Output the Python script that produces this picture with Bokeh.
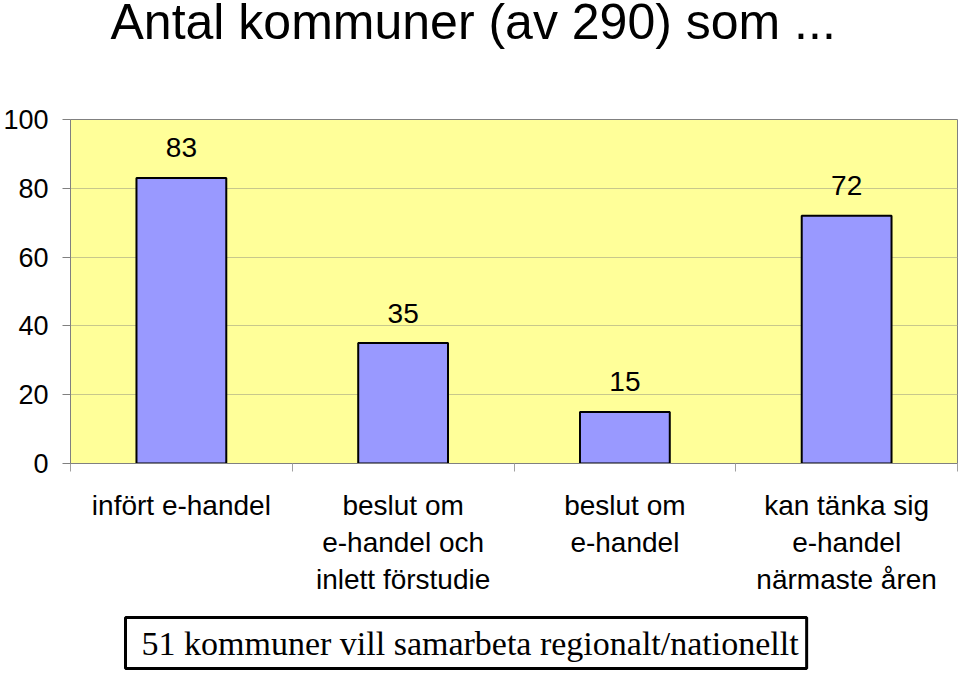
from bokeh.plotting import figure
from bokeh.models import Label, FixedTicker, Range1d
from bokeh.layouts import column
from bokeh.embed import file_html
from bokeh.resources import INLINE
from bokeh.core.properties import value

categories = ["infört e-handel", "beslut om\ne-handel och\ninlett förstudie",
              "beslut om\ne-handel", "kan tänka sig\ne-handel\nnärmaste åren"]
counts = [83, 35, 15, 72]
y_ticks = [0, 20, 40, 60, 80, 100]
title_text = "Antal kommuner (av 290) som ..."
note_text = "51 kommuner vill samarbeta regionalt/nationellt"

centers = [i + 0.5 for i in range(len(categories))]
bounds = list(range(len(categories) + 1))


def strip(height):
    s = figure(width=959, height=height, output_backend="svg", toolbar_location=None,
               x_range=Range1d(0, 1), y_range=Range1d(0, 1),
               min_border_left=70, min_border_right=2, min_border_top=0, min_border_bottom=0)
    s.axis.visible = False
    s.grid.grid_line_color = None
    s.outline_line_color = None
    s.background_fill_color = "white"
    s.border_fill_color = "white"
    return s


# title strip
p0 = strip(60)
p0.add_layout(Label(x=40, y=11, x_units="screen", y_units="screen",
                    text=title_text, text_font="Liberation Sans", text_font_size="50px",
                    text_baseline="bottom", text_color="black"))

p = figure(width=959, height=555, output_backend="svg", toolbar_location=None,
           x_range=Range1d(0, len(categories)), y_range=Range1d(0, 100),
           min_border_left=70, min_border_right=2, min_border_top=59, min_border_bottom=152)

p.background_fill_color = "#FFFF99"
p.border_fill_color = "white"
p.outline_line_color = "#808080"
p.outline_line_width = 1

p.vbar(x=centers, top=counts, width=0.405, bottom=0,
       fill_color="#9999FF", line_color="black", line_width=2)

p.text(x=centers, y=counts, text=[str(c) for c in counts],
       text_font=value("Liberation Sans"), text_font_size="28px",
       text_align="center", text_baseline="alphabetic", y_offset=-30, text_color="black")

# y axis
p.yaxis.ticker = FixedTicker(ticks=y_ticks)
p.yaxis.major_label_text_font = "Liberation Sans"
p.yaxis.major_label_text_font_size = "27px"
p.yaxis.major_label_text_color = "black"
p.yaxis.major_tick_out = 8
p.yaxis.major_tick_in = 0
p.yaxis.minor_tick_out = 0
p.yaxis.minor_tick_in = 0
p.yaxis.major_label_standoff = 14
p.yaxis.axis_line_color = "#808080"
p.yaxis.major_tick_line_color = "#808080"

# x axis
p.xaxis.ticker = FixedTicker(ticks=centers, minor_ticks=bounds)
p.xaxis.major_label_overrides = {c: lab for c, lab in zip(centers, categories)}
p.xaxis.major_label_text_font = "Liberation Sans"
p.xaxis.major_label_text_font_size = "28px"
p.xaxis.major_label_text_color = "black"
p.xaxis.major_label_text_line_height = 1.2
p.xaxis.major_tick_out = 0
p.xaxis.major_tick_in = 0
p.xaxis.minor_tick_out = 8
p.xaxis.minor_tick_in = 0
p.xaxis.minor_tick_line_color = "#a0a0a0"
p.xaxis.axis_line_color = "#808080"
p.xaxis.major_label_standoff = 18

p.xgrid.grid_line_color = None
p.ygrid.ticker = FixedTicker(ticks=y_ticks)
p.ygrid.grid_line_color = "#c8c88c"
p.ygrid.grid_line_width = 1

# note strip
p2 = strip(59)
p2.add_layout(Label(x=55, y=6, x_units="screen", y_units="screen",
                    text=note_text, text_font="Liberation Serif", text_font_size="34px",
                    text_baseline="bottom", text_color="black",
                    border_line_color="black", border_line_width=3,
                    background_fill_color="white", padding=(16, 8, 7, 7)))

layout = column(p0, p, p2, spacing=0)
open("out.html", "w").write(file_html(layout, INLINE))
